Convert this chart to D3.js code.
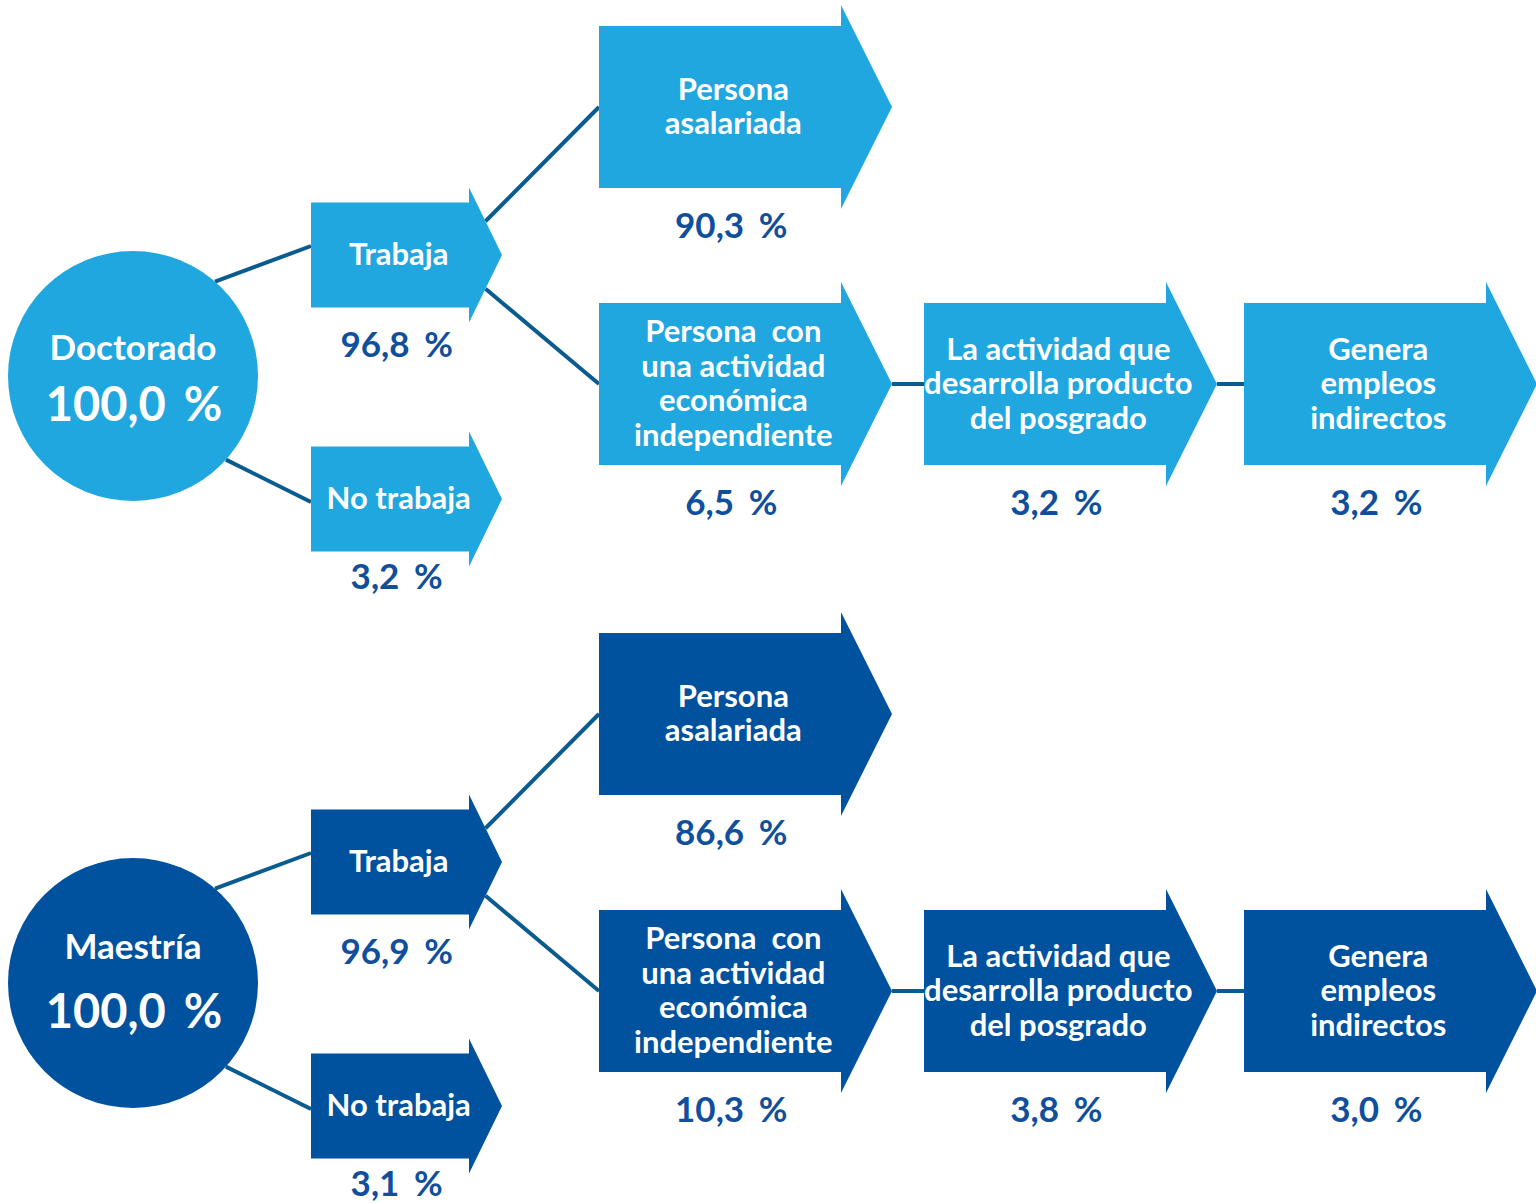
<!DOCTYPE html>
<html>
<head>
<meta charset="utf-8">
<script src="https://cdn.jsdelivr.net/npm/d3@7"></script>
<style>
  html, body { margin: 0; padding: 0; background: #fff; }
  svg { display: block; }
  text { font-family: Lato, 'Noto Sans', sans-serif; font-weight: 700; }
</style>
</head>
<body>
<svg id="chart" width="1536" height="1203"></svg>
<script>
  'use strict'

  // data
  var grados = [ 'Doctorado', 'Maestría' ]
  var nodeIds = [ 'total', 'trabaja', 'noTrabaja', 'asalariada', 'independiente', 'actividad', 'genera' ]
  var nodeLabels = [
    [ 'Doctorado' ],
    [ 'Trabaja' ],
    [ 'No trabaja' ],
    [ 'Persona', 'asalariada' ],
    [ 'Persona  con', 'una actividad', 'económica', 'independiente' ],
    [ 'La actividad que', 'desarrolla producto', 'del posgrado' ],
    [ 'Genera', 'empleos', 'indirectos' ]
  ]
  var doctoradoValues = [ 100.0, 96.8, 3.2, 90.3, 6.5, 3.2, 3.2 ]
  var maestriaValues = [ 100.0, 96.9, 3.1, 86.6, 10.3, 3.8, 3.0 ]
  var links = [
    [ 'total', 'trabaja' ],
    [ 'total', 'noTrabaja' ],
    [ 'trabaja', 'asalariada' ],
    [ 'trabaja', 'independiente' ],
    [ 'independiente', 'actividad' ],
    [ 'actividad', 'genera' ]
  ]

  var colors = { 'Doctorado': '#21a7e0', 'Maestría': '#00519e' }
  var lineColor = '#0a5b8f'
  var valueColor = '#0f4f9c'

  // layout scales
  var panelY = d3.scaleOrdinal().domain(grados).range([ 0, 607 ])
  var colX = d3.scaleOrdinal().domain([ 0, 1, 2, 3, 4 ]).range([ 133, 311, 599, 924, 1244 ])
  var rowY = d3.scaleOrdinal().domain([ 'top', 'upper', 'main', 'lower' ]).range([ 107, 255, 384, 499 ])
  var nodeCol = { total: 0, trabaja: 1, noTrabaja: 1, asalariada: 2, independiente: 2, actividad: 3, genera: 4 }
  var nodeRow = { total: 'main', trabaja: 'upper', noTrabaja: 'lower', asalariada: 'top', independiente: 'main', actividad: 'main', genera: 'main' }
  var small = { w: 158, h: 105, head: 15, tip: 33 }
  var big = { w: 242, h: 162, head: 21, tip: 51 }
  var radius = 125

  var fmtNum = function (v) {
    return v.toFixed(1).replace('.', ',')
  }

  var svg = d3.select('#chart')

  function buildNodes (grado, values) {
    return nodeIds.map(function (id, i) {
      var col = nodeCol[ id ]
      var size = col === 1 ? small : big
      return {
        id: id,
        grado: grado,
        labels: i === 0 ? [ grado ] : nodeLabels[ i ],
        value: values[ i ],
        circle: col === 0,
        x: colX(col),
        cy: rowY(nodeRow[ id ]) - (col === 0 ? 8 : 0),
        size: size
      }
    })
  }

  function arrowPath (d) {
    var s = d.size
    var x0 = d.x
    var x1 = d.x + s.w
    var yt = d.cy - s.h / 2
    var yb = d.cy + s.h / 2
    var p = d3.path()
    p.moveTo(x0, yt)
    p.lineTo(x1, yt)
    p.lineTo(x1, yt - s.head)
    p.lineTo(x1 + s.tip, d.cy)
    p.lineTo(x1, yb + s.head)
    p.lineTo(x1, yb)
    p.lineTo(x0, yb)
    p.closePath()
    return p.toString()
  }

  function linkPoints (src, tgt) {
    var start, end
    if (src.circle) {
      var ang = tgt.cy < src.cy ? -49 : 42
      var a = ang * Math.PI / 180
      start = [ src.x + radius * Math.cos(a), src.cy + radius * Math.sin(a) ]
      end = [ tgt.x, tgt.cy + (tgt.cy < src.cy ? -9 : 3) ]
    } else if (tgt.cy === src.cy) {
      start = [ src.x + src.size.w + src.size.tip, src.cy ]
      end = [ tgt.x, tgt.cy ]
    } else {
      // from the middle of the arrow head edge
      var s = src.size
      var hx = src.x + s.w + s.tip / 2
      var edgeY = tgt.cy < src.cy
        ? (src.cy - s.h / 2 - s.head + src.cy) / 2
        : (src.cy + s.h / 2 + s.head + src.cy) / 2
      start = [ hx, edgeY ]
      end = [ tgt.x, tgt.cy ]
    }
    return [ start, end ]
  }

  function addValue (sel, x, y, size, v) {
    var t = sel.append('text')
      .attr('x', x)
      .attr('y', y)
      .attr('text-anchor', 'middle')
      .attr('fill', valueColor)
      .attr('font-size', size)
    t.append('tspan').text(fmtNum(v))
    t.append('tspan').attr('dx', size * 0.42).text('%')
    return t
  }

  function drawPanel (grado, values) {
    var nodes = buildNodes(grado, values)
    var byId = {}
    nodes.forEach(function (n) { byId[ n.id ] = n })
    var g = svg.append('g')
      .attr('class', 'panel')
      .attr('transform', 'translate(0,' + panelY(grado) + ')')

    // links under the shapes
    g.selectAll('.link')
      .data(links)
      .enter()
      .append('line')
      .attr('class', 'link')
      .each(function (l) {
        var pts = linkPoints(byId[ l[ 0 ] ], byId[ l[ 1 ] ])
        d3.select(this)
          .attr('x1', pts[ 0 ][ 0 ]).attr('y1', pts[ 0 ][ 1 ])
          .attr('x2', pts[ 1 ][ 0 ]).attr('y2', pts[ 1 ][ 1 ])
      })
      .attr('stroke', lineColor)
      .attr('stroke-width', 4)

    var nodeG = g.selectAll('.node')
      .data(nodes)
      .enter()
      .append('g')
      .attr('class', 'node')

    nodeG.filter(function (d) { return d.circle })
      .append('circle')
      .attr('cx', function (d) { return d.x })
      .attr('cy', function (d) { return d.cy })
      .attr('r', radius)
      .attr('fill', colors[ grado ])

    nodeG.filter(function (d) { return !d.circle })
      .append('path')
      .attr('d', arrowPath)
      .attr('fill', colors[ grado ])

    // circle texts
    var circ = nodeG.filter(function (d) { return d.circle })
    var nameDy = grado === 'Maestría' ? -24 : -16
    circ.append('text')
      .attr('x', function (d) { return d.x })
      .attr('y', function (d) { return d.cy + nameDy })
      .attr('text-anchor', 'middle')
      .attr('fill', '#fff')
      .attr('font-size', 35)
      .text(function (d) { return d.labels[ 0 ] })
    circ.each(function (d) {
      var t = d3.select(this).append('text')
        .attr('x', d.x + 1)
        .attr('y', d.cy + 45)
        .attr('text-anchor', 'middle')
        .attr('fill', '#fff')
        .attr('font-size', 47)
      t.append('tspan').text(fmtNum(d.value))
      t.append('tspan').attr('dx', 18).text('%')
    })

    // arrow labels
    var arr = nodeG.filter(function (d) { return !d.circle })
    arr.each(function (d) {
      var sel = d3.select(this)
      var cx = d.x + d.size.w * 0.555
      var n = d.labels.length
      d.labels.forEach(function (t, i) {
        sel.append('text')
          .attr('x', cx)
          .attr('y', d.cy + (i - (n - 1) / 2) * 34.5 + 10)
          .attr('text-anchor', 'middle')
          .attr('fill', '#fff')
          .attr('font-size', 31)
          .style('white-space', 'pre')
          .text(t)
      })
      var gap = d.id === 'noTrabaja' ? 37 : (d.id === 'trabaja' ? 49 : 50)
      addValue(sel, cx - 2, d.cy + d.size.h / 2 + gap, 35, d.value)
    })
  }

  drawPanel('Doctorado', doctoradoValues)
  drawPanel('Maestría', maestriaValues)
</script>
</body>
</html>
